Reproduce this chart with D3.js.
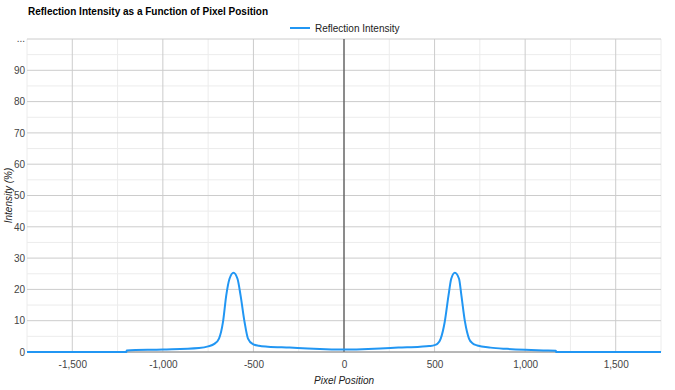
<!DOCTYPE html>
<html>
<head>
<meta charset="utf-8">
<script src="https://cdnjs.cloudflare.com/ajax/libs/d3/7.8.5/d3.min.js"></script>
<style>
  body { margin: 0; background: #fff; }
  svg { display: block; font-family: Arial, "Liberation Sans", sans-serif; }
</style>
</head>
<body>
<svg width="675" height="390"></svg>
<script>
// pixel position (x) and reflection intensity in % (y)
var pixelPos = [-1750, -1201, -1200, -1000, -800, -750, -716, -690, -668, -650, -632, -610,
  -588, -571, -549, -530, -503, -470, -420, -300, -200, -100, 0, 100, 200, 300, 420, 470,
  500, 516, 534, 556, 577, 592, 612, 635, 648, 668, 690, 709, 736, 809, 900, 1000, 1100,
  1170, 1171, 1750];
var intensity = [0, 0, 0.5, 0.8, 1.3, 1.8, 2.6, 4.3, 9.6, 18.1, 23.4, 25.3,
  23.4, 18.1, 9.6, 4.3, 2.5, 2.0, 1.7, 1.4, 1.1, 0.9, 0.8, 0.9, 1.1, 1.4, 1.7, 1.9,
  2.2, 2.6, 4.3, 9.6, 18.1, 23.4, 25.3, 23.4, 18.1, 9.6, 4.3, 2.8, 2.1, 1.4, 1.0, 0.7, 0.5,
  0.4, 0, 0];
var xTicks = [-1500, -1000, -500, 0, 500, 1000, 1500];
var yTicks = [0, 10, 20, 30, 40, 50, 60, 70, 80, 90];

var svg = d3.select('svg');
var plotL = 27, plotR = 661, plotT = 39, plotB = 352;

var x = d3.scaleLinear().domain([-1750, 1750]).range([plotL, plotR]);
var y = d3.scaleLinear().domain([0, 100]).range([plotB, plotT]);

// minor gridlines
var minorX = d3.range(-1750, 1751, 250).filter(function(d) { return d % 500 != 0; });
svg.append('g').selectAll('line').data(minorX).enter().append('line')
    .attr('x1', function(d) { return x(d); }).attr('x2', function(d) { return x(d); })
    .attr('y1', plotT).attr('y2', plotB)
    .attr('stroke', '#ececec');
svg.append('g').selectAll('line').data(d3.range(5, 100, 10)).enter().append('line')
    .attr('x1', plotL).attr('x2', plotR)
    .attr('y1', function(d) { return y(d); }).attr('y2', function(d) { return y(d); })
    .attr('stroke', '#ececec');

// major gridlines
svg.append('g').selectAll('line').data(xTicks).enter().append('line')
    .attr('x1', function(d) { return x(d); }).attr('x2', function(d) { return x(d); })
    .attr('y1', plotT).attr('y2', plotB)
    .attr('stroke', '#cccccc');
svg.append('g').selectAll('line').data(yTicks.concat([100])).enter().append('line')
    .attr('x1', plotL).attr('x2', plotR)
    .attr('y1', function(d) { return y(d); }).attr('y2', function(d) { return y(d); })
    .attr('stroke', '#cccccc');

// axes
var fmt = d3.format(',');
var xAxis = d3.axisBottom(x).tickValues(xTicks).tickSize(0).tickPadding(9)
    .tickFormat(function(d) { return fmt(d).replace('\u2212', '-'); });
svg.append('g').attr('transform', 'translate(0,' + plotB + ')').call(xAxis)
    .call(function(g) { g.select('.domain').remove(); })
    .selectAll('text').attr('fill', '#444').style('font-size', '10px');

var yAxis = d3.axisLeft(y).tickValues(yTicks).tickSize(0).tickPadding(2);
svg.append('g').attr('transform', 'translate(' + plotL + ',0)').call(yAxis)
    .call(function(g) { g.select('.domain').remove(); })
    .selectAll('text').attr('fill', '#444').style('font-size', '10px');
svg.append('text').attr('x', plotL - 2).attr('y', y(100) + 3)
    .attr('text-anchor', 'end').attr('fill', '#444').style('font-size', '10px')
    .text('...');

// zero lines
svg.append('line').attr('x1', x(0)).attr('x2', x(0)).attr('y1', plotT).attr('y2', plotB)
    .attr('stroke', '#333');
svg.append('line').attr('x1', plotL).attr('x2', plotR).attr('y1', plotB).attr('y2', plotB)
    .attr('stroke', '#888');

// data line
var pts = pixelPos.map(function(d, i) { return [d, intensity[i]]; });
var line = d3.line()
    .x(function(d) { return x(d[0]); })
    .y(function(d) { return y(d[1]); })
    .curve(d3.curveMonotoneX);
svg.append('path').datum(pts)
    .attr('d', line)
    .attr('fill', 'none')
    .attr('stroke', '#2196f3')
    .attr('stroke-width', 2);

// title
svg.append('text').attr('x', 28).attr('y', 15)
    .style('font-size', '10px').style('font-weight', 'bold').attr('fill', '#000')
    .text('Reflection Intensity as a Function of Pixel Position');

// legend
svg.append('line').attr('x1', 290).attr('x2', 310).attr('y1', 28).attr('y2', 28)
    .attr('stroke', '#2196f3').attr('stroke-width', 2);
svg.append('text').attr('x', 315).attr('y', 32)
    .style('font-size', '10px').attr('fill', '#222')
    .text('Reflection Intensity');

// axis titles
svg.append('text').attr('x', x(0)).attr('y', 384).attr('text-anchor', 'middle')
    .style('font-size', '10px').style('font-style', 'italic').attr('fill', '#222')
    .text('Pixel Position');
svg.append('text').attr('transform', 'translate(12,' + ((plotT + plotB) / 2) + ') rotate(-90)')
    .attr('text-anchor', 'middle')
    .style('font-size', '10px').style('font-style', 'italic').attr('fill', '#222')
    .text('Intensity (%)');
</script>
</body>
</html>
